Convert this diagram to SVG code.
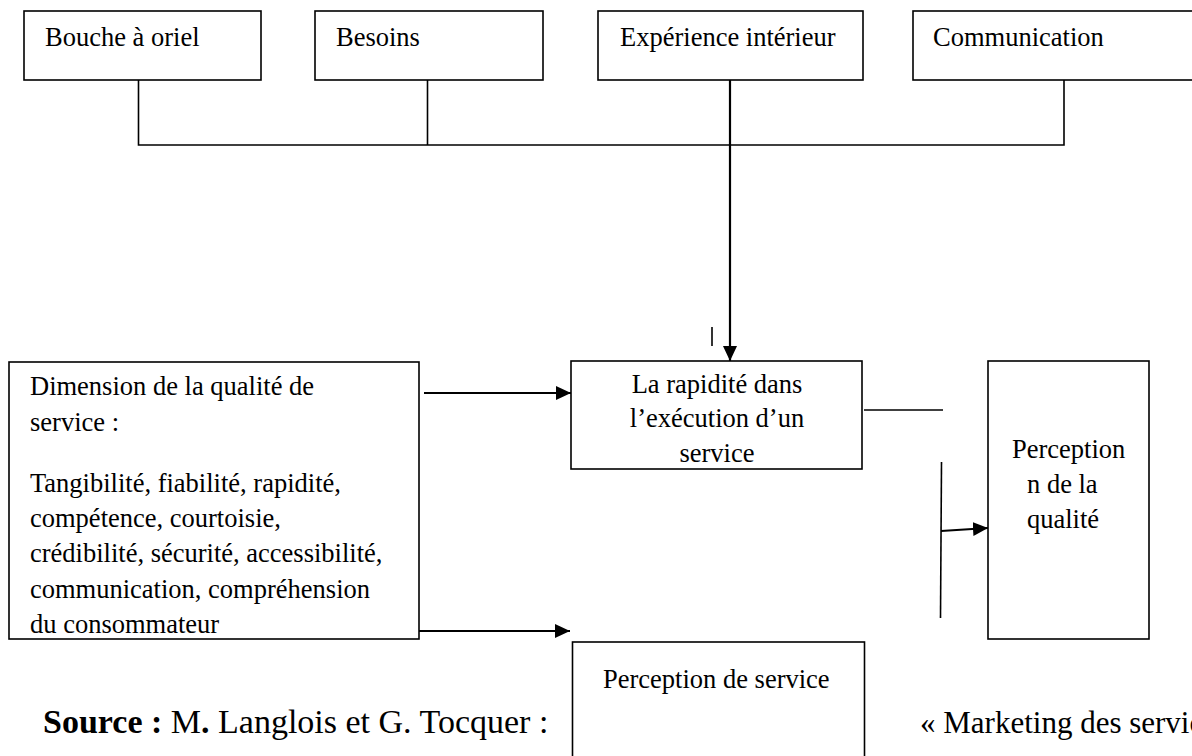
<svg xmlns="http://www.w3.org/2000/svg" width="1192" height="756" viewBox="0 0 1192 756">
<style>
.box{fill:#fff;stroke:#000;stroke-width:1.6}
.t{font-family:"Liberation Serif","Times New Roman",serif;font-size:26.5px;fill:#000}
.c{text-anchor:middle}
.ln{fill:none;stroke:#000;stroke-width:1.6}
.ar{fill:none;stroke:#000;stroke-width:2.2}
.src{font-family:"Liberation Serif","Times New Roman",serif;font-size:34px;fill:#000}
</style>
<defs>
<marker id="ah" markerUnits="userSpaceOnUse" markerWidth="16" markerHeight="14" refX="15" refY="7" orient="auto">
<path d="M0,0 L15,7 L0,14 z" fill="#000"/>
</marker>
</defs>
<rect width="1192" height="756" fill="#fff"/>
<g id="source-text">
<text class="src" x="43" y="733"><tspan font-weight="bold">Source :</tspan> M<tspan font-weight="bold">.</tspan> Langlois et G. Tocquer :</text>
<text class="src" x="920" y="733" style="font-size:31px">« Marketing des services</text>
</g>
<g id="connectors">
<polyline class="ln" points="138.5,80 138.5,145 1064,145 1064,80"/>
<line class="ln" x1="427.5" y1="80" x2="427.5" y2="145"/>
<line class="ar" x1="730" y1="80" x2="730" y2="361" marker-end="url(#ah)"/>
<line class="ln" x1="712" y1="327" x2="712" y2="346"/>
<line class="ar" x1="424" y1="393" x2="571" y2="393" marker-end="url(#ah)"/>
<line class="ar" x1="419" y1="631" x2="570" y2="631" marker-end="url(#ah)"/>
<line class="ln" x1="864" y1="410" x2="943" y2="410"/>
<line class="ln" x1="941.5" y1="462" x2="940.5" y2="618"/>
<line class="ar" x1="941" y1="531" x2="988" y2="528" marker-end="url(#ah)"/>
</g>
<g id="bouche">
<rect class="box" x="24" y="11" width="237" height="69"/>
<text class="t" x="45" y="46">Bouche à oriel</text>
</g>
<g id="besoins">
<rect class="box" x="315" y="11" width="228" height="69"/>
<text class="t" x="336" y="46">Besoins</text>
</g>
<g id="experience">
<rect class="box" x="598" y="11" width="265" height="69"/>
<text class="t" x="620" y="46">Expérience intérieur</text>
</g>
<g id="communication">
<rect class="box" x="913" y="11" width="290" height="69"/>
<text class="t" x="933" y="46">Communication</text>
</g>
<g id="rapidite">
<rect class="box" x="571" y="361" width="291" height="108"/>
<text class="t c" x="717" y="393">La rapidité dans</text>
<text class="t c" x="717" y="427">l’exécution d’un</text>
<text class="t c" x="717" y="462">service</text>
</g>
<g id="dimension">
<rect class="box" x="9" y="362" width="410" height="277"/>
<text class="t" x="30" y="395">Dimension de la qualité de</text>
<text class="t" x="30" y="431">service :</text>
<text class="t" x="30" y="492">Tangibilité, fiabilité, rapidité,</text>
<text class="t" x="30" y="527">compétence, courtoisie,</text>
<text class="t" x="30" y="562">crédibilité, sécurité, accessibilité,</text>
<text class="t" x="30" y="598">communication, compréhension</text>
<text class="t" x="30" y="633">du consommateur</text>
</g>
<g id="perception-qualite">
<rect class="box" x="988" y="361" width="161" height="278"/>
<text class="t" x="1012" y="458">Perception</text>
<text class="t" x="1027" y="493">n de la</text>
<text class="t" x="1027" y="528">qualité</text>
</g>
<g id="perception-service">
<rect class="box" x="572.5" y="642" width="292" height="130"/>
<text class="t" x="603" y="688">Perception de service</text>
</g>
</svg>
